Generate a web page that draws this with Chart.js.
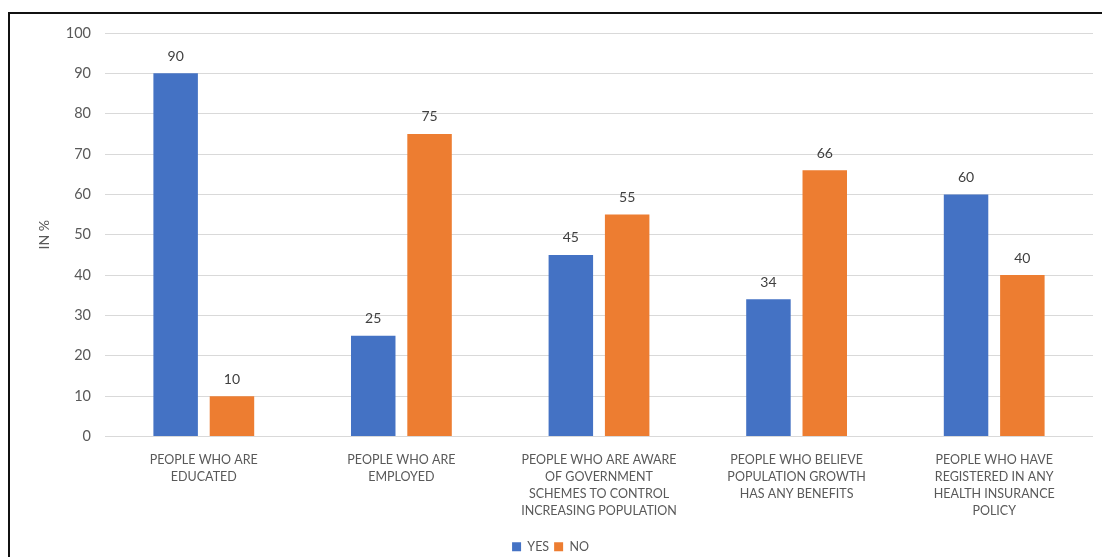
<!DOCTYPE html>
<html>
<head>
<meta charset="utf-8">
<script src="https://cdn.jsdelivr.net/npm/chart.js@4/dist/chart.umd.min.js"></script>
<style>
  html, body { margin: 0; padding: 0; background: #fff; }
  #wrap { position: relative; width: 1102px; height: 557px; overflow: hidden; }
  #frame { position: absolute; left: 8px; top: 12px; right: -10px; bottom: -10px;
           border-left: 2px solid #111; border-top: 2px solid #111; pointer-events: none; }
</style>
</head>
<body>
<div id="wrap">
  <canvas id="surveyChart" width="1102" height="557"></canvas>
  <div id="frame"></div>
</div>
<script>
const categorias = [
  ['PEOPLE WHO ARE', 'EDUCATED'],
  ['PEOPLE WHO ARE', 'EMPLOYED'],
  ['PEOPLE WHO ARE AWARE', 'OF GOVERNMENT', 'SCHEMES TO CONTROL', 'INCREASING POPULATION'],
  ['PEOPLE WHO BELIEVE', 'POPULATION GROWTH', 'HAS ANY BENEFITS'],
  ['PEOPLE WHO HAVE', 'REGISTERED IN ANY', 'HEALTH INSURANCE', 'POLICY']
];
const valoresSi = [90, 25, 45, 34, 60];
const valoresNo = [10, 75, 55, 66, 40];
const ticksY = [0, 10, 20, 30, 40, 50, 60, 70, 80, 90, 100];

const fuente = 'Lato, "Open Sans", sans-serif';
const gris = '#595959';

// valores encima de cada barra
const etiquetasBarras = {
  id: 'etiquetasBarras',
  afterDatasetsDraw(chart) {
    const ctx = chart.ctx;
    ctx.save();
    ctx.font = '14px ' + fuente;
    ctx.fillStyle = '#404040';
    ctx.textAlign = 'center';
    ctx.textBaseline = 'bottom';
    chart.data.datasets.forEach((ds, i) => {
      chart.getDatasetMeta(i).data.forEach((bar, j) => {
        ctx.fillText(ds.data[j], bar.x, bar.y - 10);
      });
    });
    ctx.restore();
  }
};

const ctx = document.getElementById('surveyChart').getContext('2d');
new Chart(ctx, {
  type: 'bar',
  data: {
    labels: categorias,
    datasets: [
      { label: 'YES', data: valoresSi, backgroundColor: '#4472C4' },
      { label: 'NO', data: valoresNo, backgroundColor: '#ED7D31' }
    ]
  },
  options: {
    responsive: false,
    animation: false,
    layout: { padding: { left: 8, right: 9, top: 33, bottom: -6 } },
    datasets: { bar: { categoryPercentage: 0.57, barPercentage: 0.79 } },
    plugins: {
      legend: {
        position: 'bottom',
        labels: {
          boxWidth: 9, boxHeight: 9, padding: 5,
          color: gris, font: { family: fuente, size: 12.5 }
        }
      },
      tooltip: { enabled: false }
    },
    scales: {
      x: {
        grid: { display: false },
        border: { display: false },
        ticks: {
          color: gris, font: { family: fuente, size: 12.5, lineHeight: '17px' },
          maxRotation: 0, autoSkip: false, padding: 7
        },
        afterFit(scale) { scale.height = 99; }
      },
      y: {
        min: 0, max: 100,
        afterBuildTicks(scale) { scale.ticks = ticksY.map(v => ({ value: v })); },
        grid: { color: '#d9d9d9', drawTicks: false },
        border: { display: false },
        ticks: { color: gris, font: { family: fuente, size: 14.5 }, padding: 14 },
        title: {
          display: true, text: 'IN %', color: gris,
          font: { family: fuente, size: 14 }, padding: { top: 28 }
        },
        afterFit(scale) { scale.width = 97; }
      }
    }
  },
  plugins: [etiquetasBarras]
});
</script>
</body>
</html>
